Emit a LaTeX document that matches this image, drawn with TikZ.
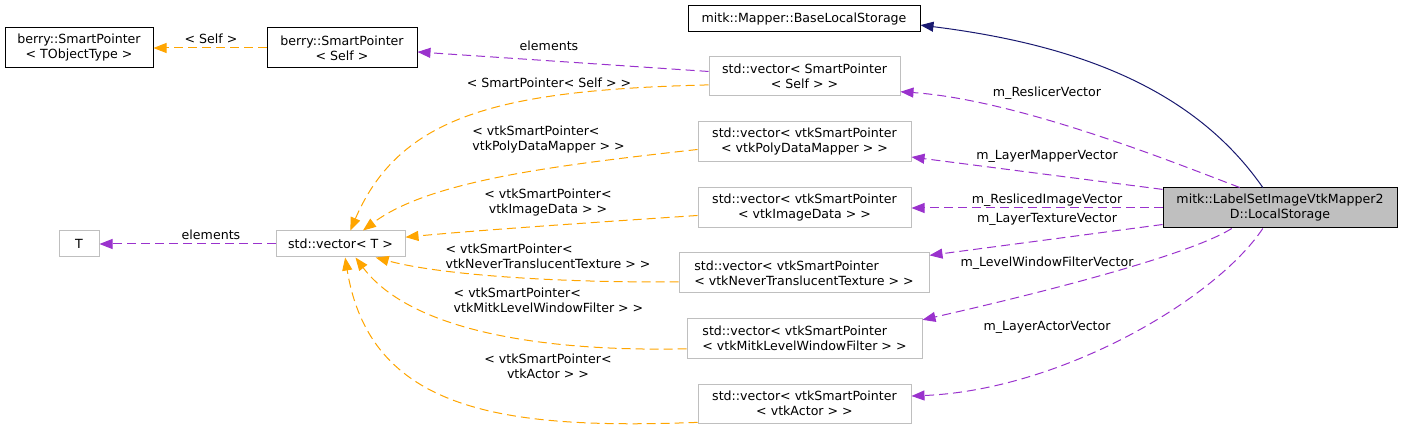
\documentclass[tikz,border=0pt]{standalone}
\usepackage{fontspec}
\setmainfont{DejaVu Sans}
\usepackage{xcolor}
\usetikzlibrary{arrows.meta}
\newcommand{\dgfont}{\fontsize{12.6}{15}\selectfont}
\definecolor{edgepurple}{HTML}{9A32CD}
\definecolor{edgeorange}{HTML}{FFA500}
\definecolor{edgenavy}{HTML}{191970}
\definecolor{boxgrey}{HTML}{BFBFBF}
\tikzstyle{docbox} = [draw=black, fill=white, line width=1pt,
    rectangle, inner sep=0pt, align=center, font=\dgfont]
\tikzstyle{undocbox} = [docbox, draw=boxgrey]
\tikzstyle{mainbox} = [docbox, fill=boxgrey]
\tikzstyle{usage} = [draw=edgepurple, line width=1pt, dash pattern=on 9pt off 5pt,
    -{Triangle[length=13pt,width=10pt]}]
\tikzstyle{tmpl} = [usage, draw=edgeorange]
\tikzstyle{inherit} = [draw=edgenavy, line width=1pt, -{Triangle[length=13pt,width=10pt]}]
\tikzstyle{elabel} = [inner sep=0pt, font=\dgfont]

\begin{document}
\begin{tikzpicture}[x=1pt,y=-1pt]
    \useasboundingbox (0,0) rectangle (1403,430);
    \node[docbox, minimum width=148pt, minimum height=40pt] (tobj) at (79,48) {berry::SmartPointer\\< TObjectType >};
    \node[docbox, minimum width=150pt, minimum height=40pt] (self) at (342,48) {berry::SmartPointer\\< Self >};
    \node[docbox, minimum width=232pt, minimum height=26pt] (base) at (804,19) {mitk::Mapper::BaseLocalStorage};
    \node[undocbox, minimum width=191pt, minimum height=39pt] (vslicer) at (804.5,76.5) {std::vector< SmartPointer\\< Self > >};
    \node[undocbox, minimum width=213pt, minimum height=40pt] (vmapper) at (804.5,142) {std::vector< vtkSmartPointer\\< vtkPolyDataMapper > >};
    \node[undocbox, minimum width=213pt, minimum height=40pt] (vimage) at (804.5,208) {std::vector< vtkSmartPointer\\< vtkImageData > >};
    \node[undocbox, minimum width=250pt, minimum height=40pt, align=left] (vtexture) at (804,273) {std::vector< vtkSmartPointer\\< vtkNeverTranslucentTexture > >};
    \node[undocbox, minimum width=235pt, minimum height=39pt, align=left] (vfilter) at (804.5,338.5) {std::vector< vtkSmartPointer\\< vtkMitkLevelWindowFilter > >};
    \node[undocbox, minimum width=213pt, minimum height=39pt] (vactor) at (804.5,403.5) {std::vector< vtkSmartPointer\\< vtkActor > >};
    \node[mainbox, minimum width=234pt, minimum height=40pt] (storage) at (1280,208) {mitk::LabelSetImageVtkMapper2\\D::LocalStorage};
    \node[undocbox, minimum width=129pt, minimum height=26pt] (vect) at (340.5,244) {std::vector< T >};
    \node[undocbox, minimum width=40pt, minimum height=26pt] (tparam) at (79,244) {T};

    \draw[inherit] (storage.130) .. controls (1195,90) and (1080,45) .. (base.-3);
    \draw[usage] (storage.153) .. controls (1180,165) and (1020,100) .. (vslicer.-9);
    \draw[usage] (storage.171) -- (vmapper.-8.5);
    \draw[usage] (storage.west) -- (vimage.east);
    \draw[usage] (storage.188) -- (vtexture.8);
    \draw[usage] (storage.203) .. controls (1185,258) and (1010,300) .. (vfilter.9);
    \draw[usage] (storage.230) .. controls (1215,300) and (1060,390) .. (vactor.4.6);

    \draw[usage] (vslicer.177) -- (self.-3);
    \draw[tmpl] (vslicer.185) .. controls (500,90) and (400,115) .. (vect.54);
    \draw[tmpl] (vmapper.184) .. controls (560,165) and (430,180) .. (vect.31);
    \draw[tmpl] (vimage.184) .. controls (600,222) and (480,230) .. (vect.6);
    \draw[tmpl] (vtexture.184) .. controls (560,283) and (440,275) .. (vect.-21);
    \draw[tmpl] (vfilter.185) .. controls (540,352) and (410,330) .. (vect.-42);
    \draw[tmpl] (vactor.190) .. controls (500,430) and (370,410) .. (vect.-71);
    \draw[usage] (vect.west) -- (tparam.east);
    \draw[tmpl] (self.west) -- (tobj.east);

    \node[elabel] (lself) at (211,39) {< Self >};
    \node[elabel] (lelem) at (549,46) {elements};
    \node[elabel] (lsmart) at (549,83) {< SmartPointer< Self > >};
    \node[elabel, align=left] (lmapper) at (548.5,140) {< vtkSmartPointer<\\vtkPolyDataMapper > >};
    \node[elabel, align=center] (limage) at (548,203) {< vtkSmartPointer<\\vtkImageData > >};
    \node[elabel, align=left] (ltexture) at (548,256) {< vtkSmartPointer<\\vtkNeverTranslucentTexture > >};
    \node[elabel, align=left] (lfilter) at (548.5,300) {< vtkSmartPointer<\\vtkMitkLevelWindowFilter > >};
    \node[elabel, align=center] (lactor) at (548,366) {< vtkSmartPointer<\\vtkActor > >};
    \node[elabel] (lelemt) at (211,235) {elements};
    \node[elabel] (lreslicer) at (1047,93) {m\_ReslicerVector};
    \node[elabel] (llayermapper) at (1047,156) {m\_LayerMapperVector};
    \node[elabel] (lresliced) at (1047,200) {m\_ReslicedImageVector};
    \node[elabel] (llayertexture) at (1047,219) {m\_LayerTextureVector};
    \node[elabel] (llevel) at (1047,263) {m\_LevelWindowFilterVector};
    \node[elabel] (lactorv) at (1047,327) {m\_LayerActorVector};
\end{tikzpicture}
\end{document}
